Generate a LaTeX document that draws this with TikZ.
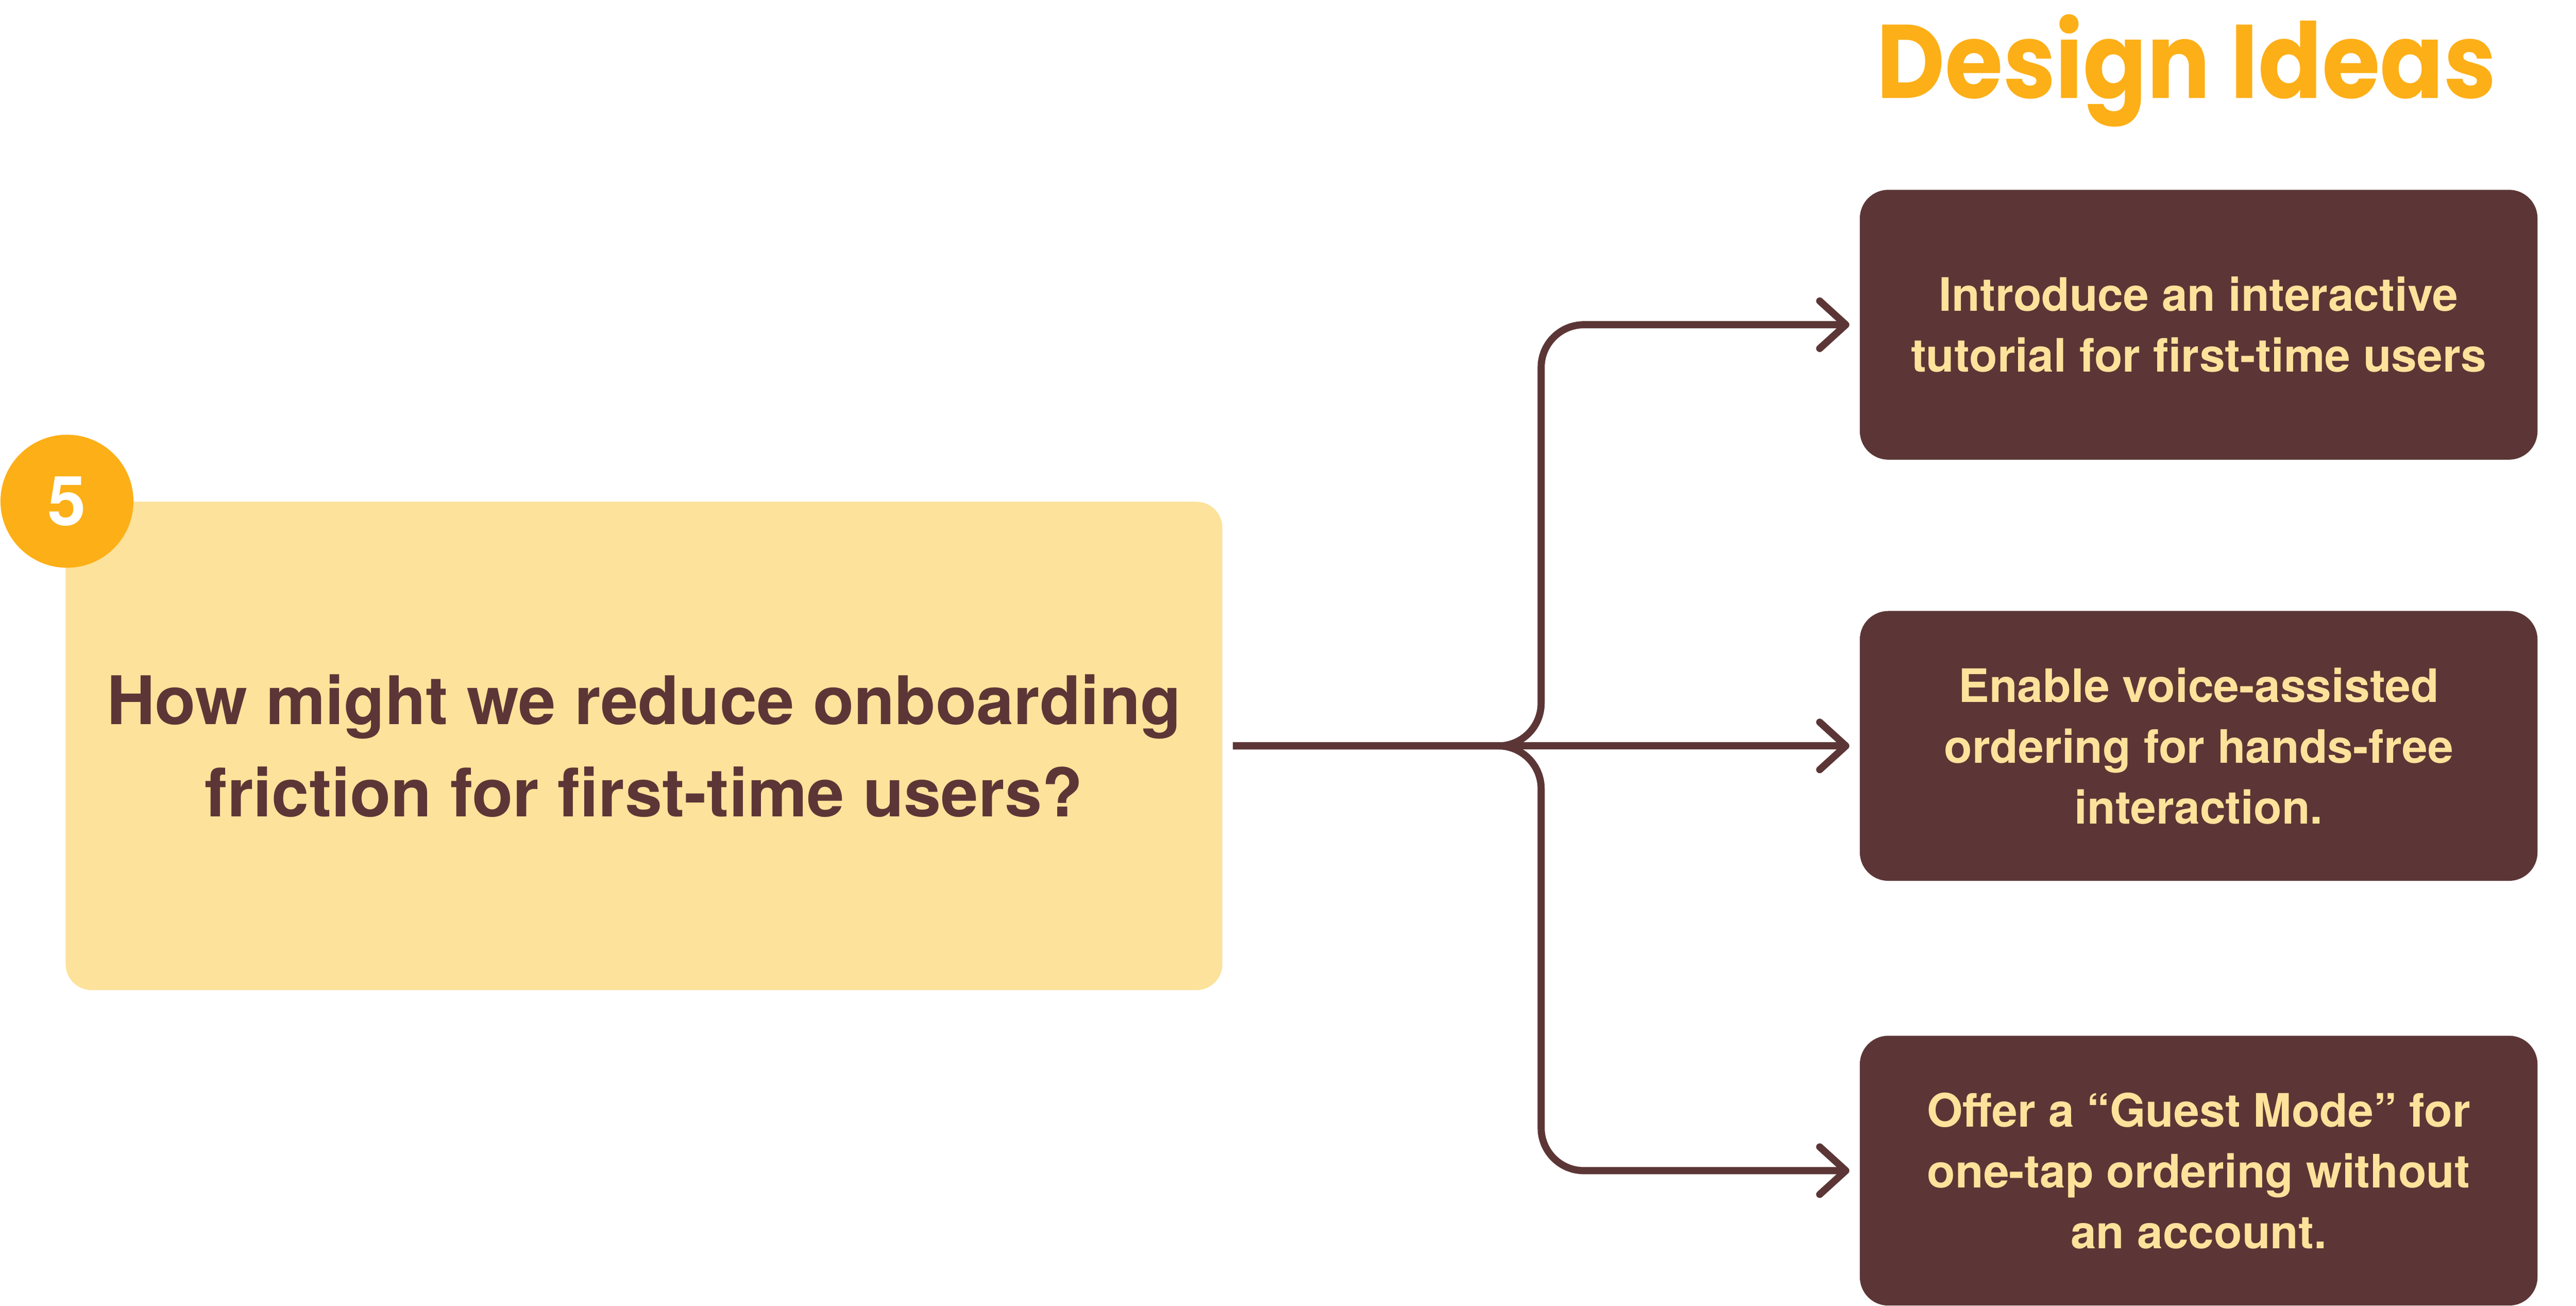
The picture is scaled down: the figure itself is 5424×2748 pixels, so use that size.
\documentclass[tikz,border=0pt]{standalone}
\usepackage{fontspec}
\setmainfont{TeX Gyre Heros}
\newfontfamily\titlefont[FakeStretch=0.9]{Poppins}
\usetikzlibrary{arrows.meta,positioning}
\definecolor{ideabrown}{HTML}{5C3636}
\definecolor{ideacream}{HTML}{FDE29B}
\definecolor{ideaorange}{HTML}{FDAF17}

\begin{document}
\begin{tikzpicture}[x=0.1pt,y=-0.1pt,
  question/.style={fill=ideacream, rounded corners=5.5pt, minimum width=243.6pt,
    minimum height=102.8pt, align=center, text=ideabrown, inner sep=0pt,
    font=\fontsize{14.1}{19.4}\selectfont\bfseries},
  badge/.style={circle, fill=ideaorange, minimum size=28pt, inner sep=0pt,
    text=white, font=\fontsize{14.5}{14.5}\selectfont\bfseries},
  idea/.style={fill=ideabrown, rounded corners=6pt, minimum width=142.7pt,
    minimum height=56.8pt, align=center, text=ideacream, inner sep=0pt,
    font=\fontsize{9.7}{12.8}\selectfont\bfseries},
  link/.style={draw=ideabrown, line width=1.5pt, shorten <=2pt, shorten >=2pt,
    -{Straight Barb[length=5.5pt,width=10pt,round]}}]
\useasboundingbox (0,0) rectangle (5424,2748);

% question and its number
\node[question] (q) at (1356,1570) {How might we reduce onboarding\\friction for first-time users?};
\node[badge] (num) at (141,1055) {5};

% heading and ideas
\node[anchor=base, text=ideaorange, font=\titlefont\bfseries\fontsize{22}{22}\selectfont] (title) at (4604,207) {Design Ideas};
\node[idea] (i1) at (4629.5,683.5) {Introduce an interactive\\tutorial for first-time users};
\node[idea] (i2) at (4629.5,1570) {Enable voice-assisted\\ordering for hands-free\\interaction.};
\node[idea] (i3) at (4629.5,2464) {Offer a “Guest Mode” for\\one-tap ordering without\\an account.};

% branches
\coordinate (fork) at (3245,1570);
\draw[link] (q.east) -- (i2.west);
\draw[link, rounded corners=9pt] (q.east) -- (fork) |- (i1.west);
\draw[link, rounded corners=9pt] (q.east) -- (fork) |- (i3.west);
\end{tikzpicture}
\end{document}
